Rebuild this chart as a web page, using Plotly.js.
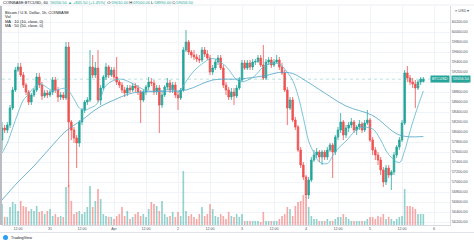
<!DOCTYPE html>
<html><head><meta charset="utf-8">
<script src="https://cdn.plot.ly/plotly-3.0.1.min.js"></script>
<style>html,body{margin:0;padding:0;background:#fff}#c{width:474px;height:243px}</style>
</head><body><div id="c"></div>
<script>
// hourly candles, first candle 2021-03-30 06:00
const firstCandle = Date.UTC(2021, 2, 30, 6);
const openP = [
57840,58080,58040,58140,58480,58840,59240,59300,59140,58940,
58800,58600,58740,58840,59100,58940,58720,58780,58740,58800,
59040,58840,58700,58740,58680,59700,58200,58040,57880,57780,
58200,58440,58600,58640,59300,59140,59280,58640,58880,59100,
59300,59140,59240,59100,59000,58940,58840,58780,58880,58840,
58920,58880,58800,58640,58800,58900,59000,58980,58800,58880,
58540,58740,58900,58980,58840,58940,58740,58680,58840,59640,
59800,59600,59540,59500,59460,59440,59640,59560,59480,59200,
59280,59400,59480,59280,58940,58840,58700,58800,58720,58880,
59040,59380,59280,59380,59300,59400,59410,59480,59340,59080,
59400,59440,59340,59400,59440,59300,59180,58840,58480,58640,
58240,58100,57640,57340,57100,56740,57040,57440,57540,57600,
57500,57600,57500,57640,57740,57600,57900,58040,58200,57940,
58080,58140,58200,58040,58100,58160,58040,58180,58240,57840,
57640,57540,57440,57240,57000,57280,57140,57200,57540,57700,
57840,58180,59180,59080,59000,58960,58880,59000,59010];
const highP = [
58200,58140,58200,58540,58900,59300,59380,59380,59200,58980,
58840,58780,58880,59180,59180,59000,58840,58840,58840,59100,
59100,58900,58800,58800,59800,59800,58240,58100,57940,58240,
58480,58640,58700,59640,59540,59400,59640,58940,59140,59380,
59340,59300,59300,59500,59040,59000,58900,58940,58940,58980,
58980,58940,58840,58840,58940,59100,59080,59040,58940,58940,
58800,58940,59080,59040,59000,59000,58800,58880,59700,60040,
59840,59640,59640,59560,59540,59700,59700,59640,59540,59340,
59460,59540,59540,59340,59000,58900,58880,58880,58940,59100,
59440,59440,59440,59440,59460,59460,59540,59540,59740,59460,
59500,59500,59460,59540,59500,59380,59240,58900,58700,58700,
58300,58140,57700,57400,57140,57100,57500,57640,57680,57640,
57640,57640,57700,57780,57780,57940,58100,58380,58240,58140,
58200,58280,58240,58140,58240,58200,58240,58440,58280,57900,
57700,57600,57500,57300,57340,57340,57240,57600,57740,57900,
58240,59240,59320,59140,59080,59040,59040,59100,59100];
const lowP = [
57640,57980,57980,58080,58440,58800,59200,59100,58880,58740,
58540,58540,58700,58800,58880,58640,58680,58680,58700,58740,
58780,58600,58640,58640,58640,56900,57840,57780,57280,57700,
58140,58380,58540,58600,59080,59080,58600,58540,58840,59040,
59080,59100,59040,58940,58880,58780,58700,58720,58780,58800,
58800,58740,58180,58600,58740,58840,58920,58740,58740,57980,
58480,58700,58840,58780,58780,58680,58440,58640,58800,59600,
59540,59480,59440,59400,59380,59400,59500,59440,59140,59140,
59240,59340,59240,58880,58740,58640,58640,58540,58680,58840,
59000,59240,59240,59240,59240,59340,59380,59300,59040,59040,
59340,59280,59300,59380,59240,59140,58800,58140,58440,58200,
58040,57600,57280,57040,56680,56660,57000,57400,57480,57400,
57340,57440,57440,57600,57080,57540,57840,57980,57840,57880,
58000,58080,57980,57940,58040,57980,58000,58140,57800,57540,
57440,57340,57140,56900,56940,57080,56840,57140,57480,57640,
57800,58140,59000,58940,58880,58480,58840,58940,58990];
const closeP = [
58080,58040,58140,58480,58840,59240,59300,59140,58940,58800,
58600,58740,58840,59100,58940,58720,58780,58740,58800,59040,
58840,58700,58740,58680,59700,58200,58040,57880,57780,58200,
58440,58600,58640,59300,59140,59280,58640,58880,59100,59300,
59140,59240,59100,59000,58940,58840,58780,58880,58840,58920,
58880,58800,58640,58800,58900,59000,58980,58800,58880,58540,
58740,58900,58980,58840,58940,58740,58680,58840,59640,59800,
59600,59540,59500,59460,59440,59640,59560,59480,59200,59280,
59400,59480,59280,58940,58840,58700,58800,58720,58880,59040,
59380,59280,59380,59300,59400,59410,59480,59340,59080,59400,
59440,59340,59400,59440,59300,59180,58840,58480,58640,58240,
58100,57640,57340,57100,56740,57040,57440,57540,57600,57500,
57600,57500,57640,57740,57600,57900,58040,58200,57940,58080,
58140,58200,58040,58100,58160,58040,58180,58240,57840,57640,
57540,57440,57240,57000,57280,57140,57200,57540,57700,57840,
58180,59180,59080,59000,58960,58880,59000,59060,59056.5];
const volume = [
525,200,200,450,575,525,350,600,475,450,
350,400,350,475,325,350,275,350,400,225,
275,200,225,200,950,1000,600,275,325,350,
275,325,450,975,450,600,900,650,275,225,
200,200,150,225,275,450,225,350,150,200,
275,325,225,275,200,400,575,525,475,350,
600,275,200,225,325,200,325,225,1350,350,
225,275,200,150,275,450,225,275,525,400,
225,200,275,225,150,325,225,200,275,200,
275,100,100,100,100,100,100,75,325,100,
100,100,100,100,150,225,275,450,400,225,
475,575,600,750,700,450,225,150,150,100,
100,100,150,100,100,150,200,200,275,200,
150,100,100,100,100,100,100,150,200,200,
150,225,200,275,150,200,150,100,150,200,
225,900,475,475,450,400,275,275,275];
const maFastIdx = [0,2,4,6,8,9,14,19,24,27,29,31,33,35,37,39,44,49,54,59,64,66,69,71,74,79,84,89,94,99,104,107,109,111,113,115,117,119,122,125,129,134,139,142,145,149,151,153,155,158];
const maFastVal = [57580,57780,58080,58380,58640,58700,58960,58830,58870,58660,58480,58430,58480,58530,58690,58930,59060,58970,58830,58820,58860,58800,59010,59160,59320,59470,59310,59010,59090,59340,59360,59190,59030,58730,58290,57820,57580,57400,57370,57610,57820,58080,58060,57840,57550,57390,57630,58010,58360,58820];
const maSlowIdx = [0,6,12,18,24,30,36,42,49,59,69,79,89,99,104,109,114,119,129,139,149,158];
const maSlowVal = [56640,57000,57320,57680,58020,58240,58480,58640,58780,58810,58840,59040,59060,59130,59190,59170,59020,58850,58520,58330,57940,57910];
const tickTimes = ['2021-03-30 12:00','2021-03-31 00:00','2021-03-31 12:00','2021-04-01 00:00','2021-04-01 12:00','2021-04-02 00:00','2021-04-02 12:00','2021-04-03 00:00','2021-04-03 12:00','2021-04-04 00:00','2021-04-04 12:00','2021-04-05 00:00','2021-04-05 12:00','2021-04-06 00:00'];
const tickLabels = ['12:00','31','12:00','Apr','12:00','2','12:00','3','12:00','4','12:00','5','12:00','6'];
const priceTicks = [56200,56400,56600,56800,57000,57200,57400,57600,57800,58000,58200,58400,58600,58800,59000,59200,59400,59600,59800,60000,60200];

const UP = '#26a69a', DOWN = '#ef5350';
const tOf = i => new Date(firstCandle + i * 3600000).toISOString().slice(0,16).replace('T',' ');
const times = closeP.map((_, i) => tOf(i));
const volColors = closeP.map((c, i) => c >= openP[i] ? 'rgba(38,166,154,0.5)' : 'rgba(239,83,80,0.5)');
const last = closeP[closeP.length - 1];

const traces = [
  {type:'bar', x:times, y:volume, yaxis:'y2', width:3600000*0.62, marker:{color:volColors, line:{width:0}}, hoverinfo:'skip'},
  {type:'scatter', mode:'lines', x:maSlowIdx.map(tOf), y:maSlowVal, line:{color:'#4ea3c8', width:0.8, shape:'spline'}, hoverinfo:'skip'},
  {type:'scatter', mode:'lines', x:maFastIdx.map(tOf), y:maFastVal, line:{color:'#5bb6cf', width:0.8, shape:'spline'}, hoverinfo:'skip'},
  {type:'candlestick', x:times, open:openP, high:highP, low:lowP, close:closeP,
   increasing:{line:{color:UP, width:0.8}, fillcolor:UP},
   decreasing:{line:{color:DOWN, width:0.8}, fillcolor:DOWN}, whiskerwidth:0}
];

const P = X => (X - 2) / 448, Q = Y => (225 - Y) / 219;
const txt = '#4c525e';
const layout = {
  width:474, height:243, margin:{l:2, r:24, t:6, b:18},
  paper_bgcolor:'#fff', plot_bgcolor:'#fff', showlegend:false, boxgap:0.15,
  font:{family:'Liberation Sans, Arial, sans-serif', size:4, color:txt},
  xaxis:{type:'date', range:['2021-03-30 06:00','2021-04-06 06:00'], tickvals:tickTimes, ticktext:tickLabels,
    showgrid:true, gridcolor:'#f0f3fa', gridwidth:1, zeroline:false, showline:true, linecolor:'#d8dbe2', linewidth:1,
    ticks:'', tickfont:{size:3.6, color:txt}, rangeslider:{visible:false}, fixedrange:true},
  yaxis:{side:'right', range:[56140, 60520], tickvals:priceTicks, ticktext:priceTicks.map(v => v.toFixed(2)),
    showgrid:true, gridcolor:'#f0f3fa', gridwidth:1, zeroline:false, showline:true, linecolor:'#d8dbe2', linewidth:1,
    ticks:'', tickfont:{size:3.8, color:txt}},
  yaxis2:{overlaying:'y', range:[0, 5475], visible:false},
  shapes:[
    {type:'line', xref:'paper', yref:'y', x0:0, x1:1, y0:last, y1:last, line:{color:'rgba(38,166,154,0.55)', width:0.6, dash:'dot'}},
    {type:'line', xref:'paper', yref:'paper', x0:P(0), x1:P(474), y0:Q(232.5), y1:Q(232.5), line:{color:'#e0e3eb', width:1}},
    {type:'line', xref:'paper', yref:'paper', x0:P(1), x1:P(1), y0:Q(225), y1:Q(6), line:{color:'#a3a6af', width:1.5}},
    {type:'line', xref:'paper', yref:'paper', x0:P(0), x1:P(474), y0:Q(5), y1:Q(5), line:{color:'#e6e8ee', width:0.8}},
    {type:'circle', xref:'paper', yref:'paper', x0:P(3), x1:P(8), y0:Q(240), y1:Q(235), fillcolor:'#2a9ef0', line:{width:0}}
  ],
  annotations:[
    {xref:'paper', yref:'paper', x:P(1), y:Q(2.3), xanchor:'left', yanchor:'middle', showarrow:false, font:{size:4, color:'#131722'},
     text:'COINBASE:BTCUSD, 60  <span style="color:#26a69a">59056.50 ▲ +845.50 (+1.45%)</span>  O:<span style="color:#26a69a">59010.00</span> H:<span style="color:#26a69a">59100.00</span> L:<span style="color:#26a69a">58990.00</span> C:<span style="color:#26a69a">59056.50</span>'},
    {xref:'paper', yref:'paper', x:P(3.3), y:Q(12.7), xanchor:'left', yanchor:'middle', showarrow:false, font:{size:4, color:'#131722'}, text:'Bitcoin / U.S. Dollar, 1h, COINBASE'},
    {xref:'paper', yref:'paper', x:P(3.3), y:Q(16.8), xanchor:'left', yanchor:'middle', showarrow:false, font:{size:4, color:'#131722'}, text:'Vol'},
    {xref:'paper', yref:'paper', x:P(3.3), y:Q(21), xanchor:'left', yanchor:'middle', showarrow:false, font:{size:4, color:'#131722'}, text:'MA · 10 (10, close, 0)'},
    {xref:'paper', yref:'paper', x:P(3.3), y:Q(25.1), xanchor:'left', yanchor:'middle', showarrow:false, font:{size:4, color:'#131722'}, text:'MA · 50 (50, close, 0)'},
    {xref:'paper', yref:'paper', x:P(453), y:Q(11), xanchor:'left', yanchor:'middle', showarrow:false, font:{size:3.8, color:txt}, text:'≡ USD ▾'},
    {xref:'paper', yref:'y', x:1, y:last, xanchor:'left', yanchor:'middle', showarrow:false, xshift:0.5, bgcolor:UP, borderpad:1, font:{size:3.8, color:'#fff'}, text:'59056.50'},
    {xref:'paper', yref:'y', x:1, y:last, xanchor:'right', yanchor:'middle', showarrow:false, xshift:-0.5, bgcolor:UP, borderpad:1, font:{size:3.8, color:'#fff'}, text:'BTCUSD'},
    {xref:'paper', yref:'paper', x:P(9), y:Q(237.6), xanchor:'left', yanchor:'middle', showarrow:false, font:{size:3.8, color:'#131722'}, text:'TradingView'}
  ]
};
Plotly.newPlot('c', traces, layout, {staticPlot:true, displayModeBar:false});
</script></body></html>
